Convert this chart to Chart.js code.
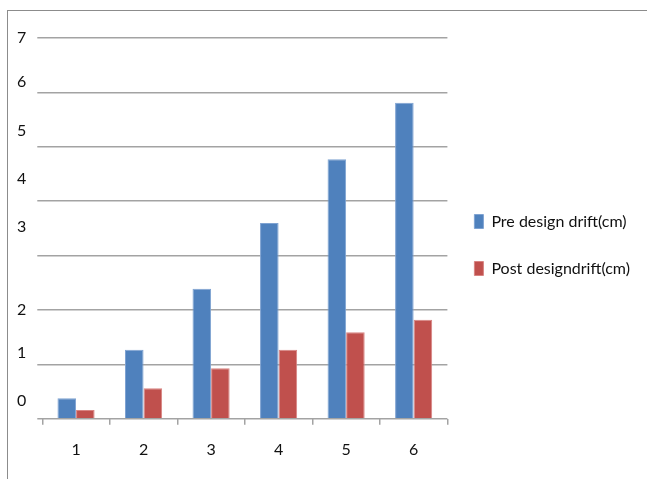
<!DOCTYPE html>
<html>
<head>
<meta charset="utf-8">
<script src="https://cdn.jsdelivr.net/npm/chart.js@4.4.1/dist/chart.umd.min.js"></script>
<style>
  html, body { margin: 0; padding: 0; background: #fff; }
  #wrap { position: relative; width: 647px; height: 479px; }
  #frame { position: absolute; left: 7px; top: 10px; right: -2px; bottom: -2px;
           border-left: 1px solid #8c8c8c; border-top: 1px solid #8c8c8c; pointer-events: none; }
  canvas { position: absolute; left: 0; top: 0; }
</style>
</head>
<body>
<div id="wrap">
  <canvas id="c" width="647" height="479"></canvas>
  <div id="frame"></div>
</div>
<script>
// Drift per storey, before and after the design change
const storeys = ['1', '2', '3', '4', '5', '6'];
const preDrift = [0.38, 1.27, 2.39, 3.60, 4.77, 5.81];
const postDrift = [0.16, 0.56, 0.93, 1.27, 1.59, 1.82];

// Printed y-axis labels and the axis values they sit at
const yLabels = ['0', '1', '2', '3', '4', '5', '6', '7'];
const yLabelAt = [0.33, 1.22, 2.01, 3.52, 4.42, 5.30, 6.19, 7.0];

const FONT = "'Lato', sans-serif";
const GRID = '#a3a3a3';
const TEXT = '#111';

// Nudge the legend block a little left and up from its laid-out spot
const legendNudge = {
  id: 'legendNudge',
  afterLayout(chart) {
    const lg = chart.legend;
    if (!lg) return;
    lg.left -= 4; lg.right -= 4;
    lg.top -= 11; lg.bottom -= 11;
  }
};

new Chart(document.getElementById('c'), {
  type: 'bar',
  data: {
    labels: storeys,
    datasets: [
      { label: 'Pre design drift(cm)', data: preDrift, backgroundColor: '#4F81BD',
        borderColor: '#7fa3d2', borderWidth: 1, borderSkipped: 'bottom' },
      { label: 'Post designdrift(cm)', data: postDrift, backgroundColor: '#C0504D',
        borderColor: '#d88482', borderWidth: 1, borderSkipped: 'bottom' }
    ]
  },
  plugins: [legendNudge],
  options: {
    responsive: false,
    animation: false,
    layout: { padding: { left: 14, top: 38, right: 3, bottom: 5 } },
    datasets: { bar: { categoryPercentage: 0.55, barPercentage: 1.0 } },
    plugins: {
      tooltip: { enabled: false },
      legend: {
        position: 'right',
        align: 'center',
        maxWidth: 200,
        labels: {
          boxWidth: 9, boxHeight: 14, padding: 31,
          color: TEXT,
          font: { family: FONT, size: 16 }
        }
      }
    },
    scales: {
      x: {
        grid: { display: true, drawOnChartArea: false, drawTicks: true, tickLength: 6,
                color: GRID, lineWidth: 1.5, offset: true },
        border: { display: false },
        ticks: { color: TEXT, padding: 15, font: { family: FONT, size: 16 } }
      },
      y: {
        position: 'left',
        weight: 0,
        min: 0, max: 7,
        ticks: { display: false, stepSize: 1 },
        grid: { color: GRID, lineWidth: 1.5, drawTicks: true, tickLength: 5 },
        border: { display: false }
      },
      yl: {
        position: 'left',
        weight: 1,
        min: 0, max: 7,
        grid: { display: false },
        border: { display: false },
        afterBuildTicks: (axis) => {
          axis.ticks = yLabelAt.map(v => ({ value: v }));
        },
        ticks: {
          autoSkip: false,
          padding: 3,
          color: TEXT,
          font: { family: FONT, size: 16 },
          callback: (value, index) => yLabels[index]
        }
      }
    }
  }
});
</script>
</body>
</html>
